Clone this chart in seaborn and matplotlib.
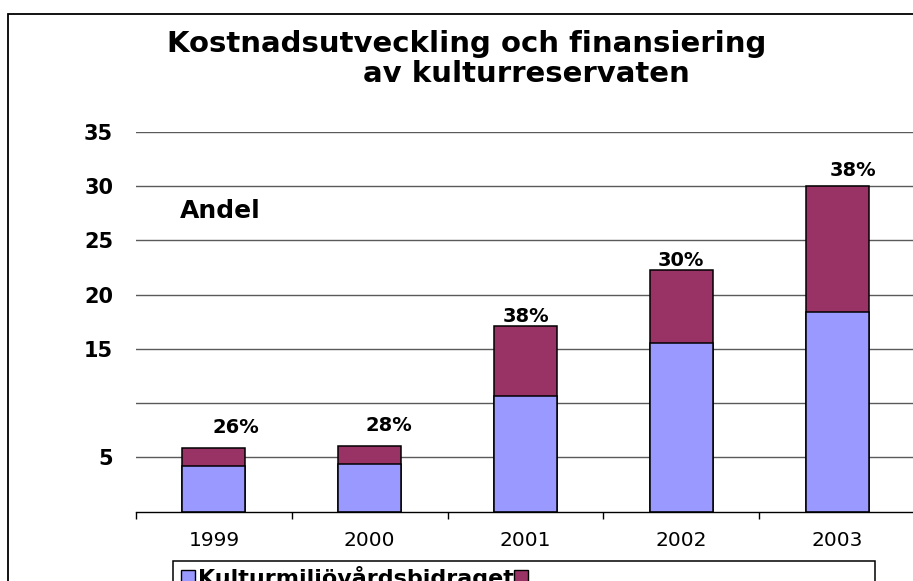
import matplotlib
matplotlib.use("Agg")
import matplotlib.pyplot as plt
import seaborn as sns
import pandas as pd
from matplotlib.patches import Rectangle, Patch

# ---- data ----
years = ["1999", "2000", "2001", "2002", "2003"]
bidrag = [4.23, 4.36, 10.64, 15.52, 18.38]      # Kulturmiljövårdsbidraget (blue)
ovrigt = [1.60, 1.71, 6.44, 6.71, 11.66]        # other financing (maroon, stacked on top)
andel_labels = ["26%", "28%", "38%", "30%", "38%"]
y_ticks = [5, 10, 15, 20, 25, 30, 35]
y_tick_labels = ["5", "", "15", "20", "25", "30", "35"]
legend_labels = ["Kulturmiljövårdsbidraget", ""]
title_line1 = "Kostnadsutveckling och finansiering"
title_line2 = "av kulturreservaten"
annot_text = "Andel"

# ---- styling ----
BLUE = "#9999FF"
MAROON = "#993366"
FONT = "DejaVu Sans"
label_offsets_px = [(22, 15), (19, 15), (0, 4), (0, 4), (16, 10)]

df = pd.DataFrame({"year": years, "bidrag": bidrag, "ovrigt": ovrigt})
df["total"] = df["bidrag"] + df["ovrigt"]

W, H = 913, 581
fig = plt.figure(figsize=(W / 100, H / 100), dpi=100)
fig.patch.set_facecolor("white")
plt.rcParams["font.family"] = [FONT]

ax = fig.add_axes([136 / W, 1 - 511.7 / H, (915 - 136) / W, (511.7 - 131.7) / H])

sns.barplot(data=df, x="year", y="total", order=years, color=MAROON, saturation=1,
            width=0.405, edgecolor="black", linewidth=1.1, errorbar=None, ax=ax)
sns.barplot(data=df, x="year", y="bidrag", order=years, color=BLUE, saturation=1,
            width=0.405, edgecolor="black", linewidth=1.1, errorbar=None, ax=ax)

ax.set_xlim(-0.5, 4.5)
ax.set_ylim(0, 35)
ax.set_xlabel("")
ax.set_ylabel("")
ax.set_axisbelow(True)
ax.yaxis.grid(True, color="#5a5a5a", linewidth=1.0)
ax.xaxis.grid(False)
for s in ["left", "right", "top"]:
    ax.spines[s].set_visible(False)
ax.spines["bottom"].set_color("black")
ax.spines["bottom"].set_linewidth(1.0)

ax.set_yticks(y_ticks)
ax.set_yticklabels(y_tick_labels, fontsize=15, fontweight="bold", family=FONT)
ax.tick_params(axis="y", length=0, pad=16.5)
ax.set_xticks(range(len(years)))
ax.set_xticklabels(years, fontsize=14.5, family=FONT)
ax.tick_params(axis="x", which="major", length=0, pad=14)
ax.set_xticks([i - 0.5 for i in range(len(years) + 1)], minor=True)
ax.tick_params(axis="x", which="minor", length=5, width=1, direction="out", color="black")

# percent labels above bars
for i, (lab, tot) in enumerate(zip(andel_labels, df["total"])):
    dx, dy = label_offsets_px[i]
    ax.annotate(lab, xy=(i, tot), xytext=(dx * 0.72, dy * 0.72), textcoords="offset points",
                ha="center", va="baseline", fontsize=14, fontweight="bold", family=FONT)

ax.text(-0.218, 27.05, annot_text, ha="left", va="baseline", fontsize=18,
        fontweight="bold", family=FONT)

# title
fig.text(467 / W, 1 - 52 / H, title_line1, ha="center", va="baseline", fontsize=21,
         fontweight="bold", family=FONT)
fig.text(526 / W, 1 - 82 / H, title_line2, ha="center", va="baseline", fontsize=21,
         fontweight="bold", family=FONT)

# outer chart border (top and left visible)
fig.patches.append(Rectangle((8.3 / W, -0.1), 1.0, (1 - 14.3 / H) + 0.1,
                             transform=fig.transFigure, fill=False, edgecolor="black",
                             linewidth=1.3, zorder=0))

# legend
handles = [Patch(facecolor=BLUE, edgecolor="black", linewidth=1),
           Patch(facecolor=MAROON, edgecolor="black", linewidth=1)]
fig.legend(handles=handles, labels=legend_labels, ncol=2, loc="upper left",
           bbox_to_anchor=(181 / W, 1 - 566 / H), frameon=False, borderpad=0,
           borderaxespad=0, handlelength=0.62, handleheight=0.62, handletextpad=0.15,
           columnspacing=0.0, prop={"family": FONT, "weight": "bold", "size": 16})
fig.patches.append(Rectangle((173 / W, -0.1), (875 - 173) / W, (1 - 560.7 / H) + 0.1,
                             transform=fig.transFigure, fill=False, edgecolor="black",
                             linewidth=1.1, zorder=0))

fig.savefig("out.png", dpi=100, facecolor="white")
